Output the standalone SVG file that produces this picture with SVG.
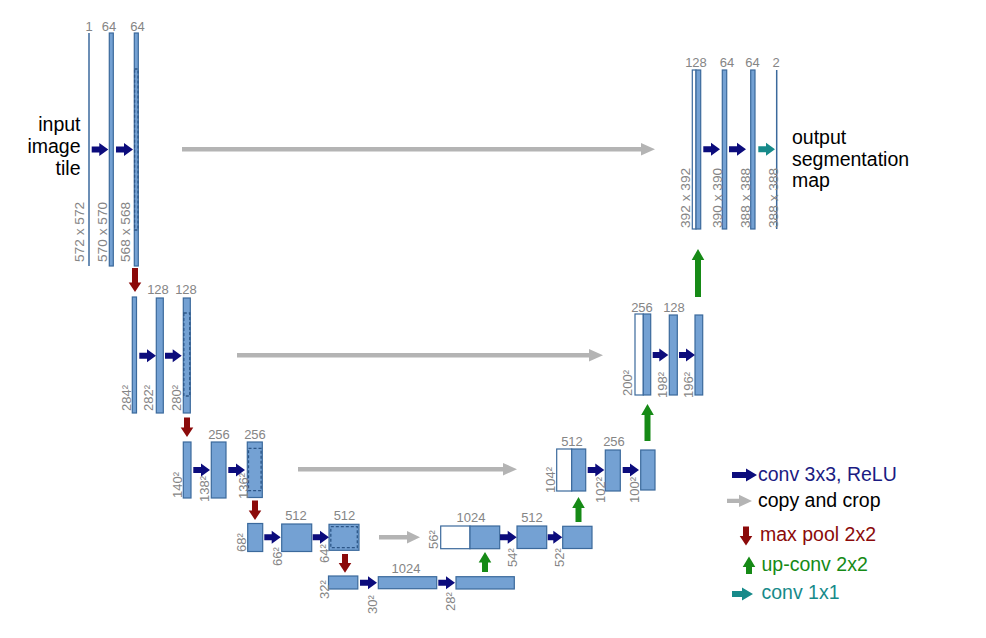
<svg xmlns="http://www.w3.org/2000/svg" width="986" height="638" viewBox="0 0 986 638">
<style>
.bar{fill:#74a1d3;stroke:#3b699c;stroke-width:1.2}
.wb{fill:#ffffff;stroke:#3b699c;stroke-width:1.2}
.ln{fill:none;stroke:#3b699c;stroke-width:1.5}
.dash{fill:none;stroke:#2c5687;stroke-width:1.3;stroke-dasharray:3 2}
.n{font-family:"Liberation Sans",Arial,sans-serif;font-size:13px;fill:#858585;text-anchor:middle}
.r{font-family:"Liberation Sans",Arial,sans-serif;font-size:13px;fill:#858585}
.rx{font-family:"Liberation Sans",Arial,sans-serif;font-size:13.7px;fill:#858585}
.big{font-family:"Liberation Sans",Arial,sans-serif;font-size:19.5px;fill:#000000}
.conv{fill:#0c0c7c}
.copy{fill:#b4b4b4}
.pool{fill:#8b0a0a}
.up{fill:#168a16}
.c11{fill:#178a8a}
</style>
<rect width="986" height="638" fill="#ffffff"/>

<g id="level1-down">
  <line class="ln" x1="89" y1="33" x2="89" y2="266"/>
  <rect class="bar" x="109.3" y="33" width="4" height="233"/>
  <rect class="bar" x="134.3" y="33" width="4" height="233"/>
  <rect class="dash" x="134.6" y="69" width="3.4" height="161"/>
  <text class="n" x="89" y="31">1</text>
  <text class="n" x="109" y="31">64</text>
  <text class="n" x="137.5" y="31">64</text>
  <text class="rx" transform="translate(84,262) rotate(-90)">572 x 572</text>
  <text class="rx" transform="translate(106.5,262) rotate(-90)">570 x 570</text>
  <text class="rx" transform="translate(130,262) rotate(-90)">568 x 568</text>
  <text class="big" text-anchor="end" x="80.5" y="131">input</text>
  <text class="big" text-anchor="end" x="80.5" y="153">image</text>
  <text class="big" text-anchor="end" x="80.5" y="175">tile</text>
</g>

<g id="level2-down">
  <rect class="bar" x="132.3" y="297" width="4.2" height="116"/>
  <rect class="bar" x="156.3" y="298" width="7" height="115"/>
  <rect class="bar" x="183.3" y="298" width="7" height="115"/>
  <rect class="dash" x="183.8" y="313" width="6" height="83"/>
  <text class="n" x="158" y="294">128</text>
  <text class="n" x="186" y="294">128</text>
  <text class="r" transform="translate(130.5,411) rotate(-90)">284²</text>
  <text class="r" transform="translate(153,411) rotate(-90)">282²</text>
  <text class="r" transform="translate(180.8,411) rotate(-90)">280²</text>
</g>

<g id="level3-down">
  <rect class="bar" x="183.3" y="442" width="7.7" height="56"/>
  <rect class="bar" x="211.3" y="442" width="14.7" height="56"/>
  <rect class="bar" x="247.3" y="442" width="15" height="55.5"/>
  <rect class="dash" x="248.5" y="448.3" width="12.6" height="42.4"/>
  <text class="n" x="219" y="438.5">256</text>
  <text class="n" x="255" y="438.5">256</text>
  <text class="r" transform="translate(181.8,498) rotate(-90)">140²</text>
  <text class="r" transform="translate(208.5,502) rotate(-90)">138²</text>
  <text class="r" transform="translate(247.5,499) rotate(-90)">136²</text>
</g>

<g id="level4-down">
  <rect class="bar" x="247.7" y="523.5" width="15" height="28"/>
  <rect class="bar" x="281.7" y="524" width="30" height="27.5"/>
  <rect class="bar" x="329" y="524.3" width="30" height="26"/>
  <rect class="dash" x="330.8" y="526.7" width="26.5" height="21"/>
  <text class="n" x="296" y="519.5">512</text>
  <text class="n" x="344.5" y="519.5">512</text>
  <text class="r" transform="translate(246.3,552) rotate(-90)">68²</text>
  <text class="r" transform="translate(281.8,566) rotate(-90)">66²</text>
  <text class="r" transform="translate(329,563) rotate(-90)">64²</text>
</g>

<g id="level5-bottom">
  <rect class="bar" x="328.5" y="576" width="29.3" height="13"/>
  <rect class="bar" x="378.3" y="576.7" width="58.4" height="12"/>
  <rect class="bar" x="456" y="576.7" width="58.3" height="12.3"/>
  <text class="n" x="406" y="572.5">1024</text>
  <text class="r" transform="translate(329,599) rotate(-90)">32²</text>
  <text class="r" transform="translate(377,614) rotate(-90)">30²</text>
  <text class="r" transform="translate(455,611) rotate(-90)">28²</text>
</g>

<g id="level4-up">
  <rect class="wb" x="440.7" y="526" width="29.3" height="22.7"/>
  <rect class="bar" x="470" y="526" width="29.7" height="22.7"/>
  <rect class="bar" x="517" y="526" width="29.7" height="22.5"/>
  <rect class="bar" x="562.7" y="526.3" width="29.3" height="22.2"/>
  <text class="n" x="471" y="521.7">1024</text>
  <text class="n" x="532" y="521.7">512</text>
  <text class="r" transform="translate(438.3,549) rotate(-90)">56²</text>
  <text class="r" transform="translate(517.3,567) rotate(-90)">54²</text>
  <text class="r" transform="translate(563.8,567) rotate(-90)">52²</text>
</g>

<g id="level3-up">
  <rect class="wb" x="556.7" y="449" width="15" height="42"/>
  <rect class="bar" x="571.7" y="449" width="14" height="42"/>
  <rect class="bar" x="605.3" y="450" width="15" height="41"/>
  <rect class="bar" x="640.7" y="450" width="14.3" height="40"/>
  <text class="n" x="572" y="446">512</text>
  <text class="n" x="614" y="446">256</text>
  <text class="r" transform="translate(555.3,493) rotate(-90)">104²</text>
  <text class="r" transform="translate(605.3,503) rotate(-90)">102²</text>
  <text class="r" transform="translate(639.3,503) rotate(-90)">100²</text>
</g>

<g id="level2-up">
  <rect class="wb" x="635" y="314" width="8.3" height="81"/>
  <rect class="bar" x="643.3" y="314" width="7.4" height="81"/>
  <rect class="bar" x="669.3" y="315" width="8" height="80"/>
  <rect class="bar" x="695" y="315" width="7.7" height="80"/>
  <text class="n" x="642" y="311.7">256</text>
  <text class="n" x="674" y="311.7">128</text>
  <text class="r" transform="translate(631.8,396) rotate(-90)">200²</text>
  <text class="r" transform="translate(667.3,398) rotate(-90)">198²</text>
  <text class="r" transform="translate(693.3,398) rotate(-90)">196²</text>
</g>

<g id="level1-up">
  <rect class="wb" x="692.3" y="70" width="3.7" height="159"/>
  <rect class="bar" x="696" y="70" width="4.7" height="159"/>
  <rect class="bar" x="722.3" y="70" width="4.4" height="159"/>
  <rect class="bar" x="750.7" y="70" width="4.3" height="159"/>
  <line class="ln" x1="776.7" y1="70" x2="776.7" y2="229"/>
  <text class="n" x="696" y="66.5">128</text>
  <text class="n" x="727" y="66.5">64</text>
  <text class="n" x="752.5" y="66.5">64</text>
  <text class="n" x="776" y="66.5">2</text>
  <text class="rx" transform="translate(690.3,228) rotate(-90)">392 x 392</text>
  <text class="rx" transform="translate(721.8,228) rotate(-90)">390 x 390</text>
  <text class="rx" transform="translate(750.3,228) rotate(-90)">388 x 388</text>
  <text class="rx" transform="translate(777.5,228) rotate(-90)">388 x 388</text>
  <text class="big" x="792" y="144">output</text>
  <text class="big" x="792" y="165.5">segmentation</text>
  <text class="big" x="792" y="187">map</text>
</g>

<g id="connectors">
  <path class="conv" d="M91.7,146.5 H99.3 V143 L108.3,149.5 L99.3,156 V152.5 H91.7 Z"/>
  <path class="conv" d="M116,146.5 H124 V143 L133,149.5 L124,156 V152.5 H116 Z"/>
  <path class="conv" d="M139.3,352.7 H147 V349.2 L156,355.7 L147,362.2 V358.7 H139.3 Z"/>
  <path class="conv" d="M165,352.7 H172.7 V349.2 L181.7,355.7 L172.7,362.2 V358.7 H165 Z"/>
  <path class="conv" d="M193.3,467 H201 V463.5 L210,470 L201,476.5 V473 H193.3 Z"/>
  <path class="conv" d="M228.3,467 H236 V463.5 L245,470 L236,476.5 V473 H228.3 Z"/>
  <path class="conv" d="M264.3,534.3 H271.7 V530.8 L280.7,537.3 L271.7,543.8 V540.3 H264.3 Z"/>
  <path class="conv" d="M312.7,534.3 H320 V530.8 L329,537.3 L320,543.8 V540.3 H312.7 Z"/>
  <path class="conv" d="M360,579.7 H368 V576.2 L377,582.7 L368,589.2 V585.7 H360 Z"/>
  <path class="conv" d="M438.3,579.7 H446 V576.2 L455,582.7 L446,589.2 V585.7 H438.3 Z"/>
  <path class="conv" d="M500,534.3 H507.7 V530.8 L516.7,537.3 L507.7,543.8 V540.3 H500 Z"/>
  <path class="conv" d="M547.7,534.3 H553.3 V530.8 L562.3,537.3 L553.3,543.8 V540.3 H547.7 Z"/>
  <path class="conv" d="M587.7,467 H595.3 V463.5 L604.3,470 L595.3,476.5 V473 H587.7 Z"/>
  <path class="conv" d="M622.7,467 H630 V463.5 L639,470 L630,476.5 V473 H622.7 Z"/>
  <path class="conv" d="M652.7,352 H659.3 V348.5 L668.3,355 L659.3,361.5 V358 H652.7 Z"/>
  <path class="conv" d="M679,352 H686 V348.5 L695,355 L686,361.5 V358 H679 Z"/>
  <path class="conv" d="M703.3,146.3 H711 V142.8 L720,149.3 L711,155.8 V152.3 H703.3 Z"/>
  <path class="conv" d="M729,146.3 H737 V142.8 L746,149.3 L737,155.8 V152.3 H729 Z"/>
  <path class="c11" d="M758.3,146.3 H766 V142.8 L775,149.3 L766,155.8 V152.3 H758.3 Z"/>
  <path class="copy" d="M182,147 H641 V143 L655,149.2 L641,155.4 V151.4 H182 Z"/>
  <path class="copy" d="M237,353 H589 V349 L603,355.2 L589,361.4 V357.4 H237 Z"/>
  <path class="copy" d="M298,467 H503 V463 L517,469.2 L503,475.4 V471.4 H298 Z"/>
  <path class="copy" d="M379,535 H407 V531 L420,537.2 L407,543.4 V539.4 H379 Z"/>
  <path class="pool" d="M132,268 H138 V282.5 H141.3 L135,292 L128.7,282.5 H132 Z"/>
  <path class="pool" d="M184,417.5 H190 V427.5 H193.3 L187,437 L180.7,427.5 H184 Z"/>
  <path class="pool" d="M252,500.5 H258 V510.5 H261.3 L255,520 L248.7,510.5 H252 Z"/>
  <path class="pool" d="M342,554 H348 V563 H351.3 L345,572.7 L338.7,563 H342 Z"/>
  <path class="up" d="M482,572 H488 V562.5 H491.3 L485,552 L478.7,562.5 H482 Z"/>
  <path class="up" d="M575.5,522 H581.5 V508 H584.8 L578.5,497 L572.2,508 H575.5 Z"/>
  <path class="up" d="M644.5,441 H650.5 V415 H653.8 L647.5,404 L641.2,415 H644.5 Z"/>
  <path class="up" d="M695,297 H701 V260 H704.3 L698,249 L691.7,260 H695 Z"/>
</g>

<g id="legend">
  <path class="conv" d="M732,472 H746 V468.5 L757,475 L746,481.5 V478 H732 Z"/>
  <text class="big" x="758" y="481" style="fill:#1b1b82">conv 3x3, ReLU</text>
  <path class="copy" d="M727,498.7 H739 V494.7 L752,500.9 L739,507.1 V503.1 H727 Z"/>
  <text class="big" x="758" y="507">copy and crop</text>
  <path class="pool" d="M743,526.5 H749 V536 H752.3 L746,545.5 L739.7,536 H743 Z"/>
  <text class="big" x="760" y="540.5" style="fill:#8b0a0a">max pool 2x2</text>
  <path class="up" d="M746,574 H752 V567 H755.3 L749,556.5 L742.7,567 H746 Z"/>
  <text class="big" x="761.5" y="571" style="fill:#168a16">up-conv 2x2</text>
  <path class="c11" d="M732,591 H742 V587.5 L753,594 L742,600.5 V597 H732 Z"/>
  <text class="big" x="761.5" y="598.5" style="fill:#178a8a">conv 1x1</text>
</g>
</svg>
